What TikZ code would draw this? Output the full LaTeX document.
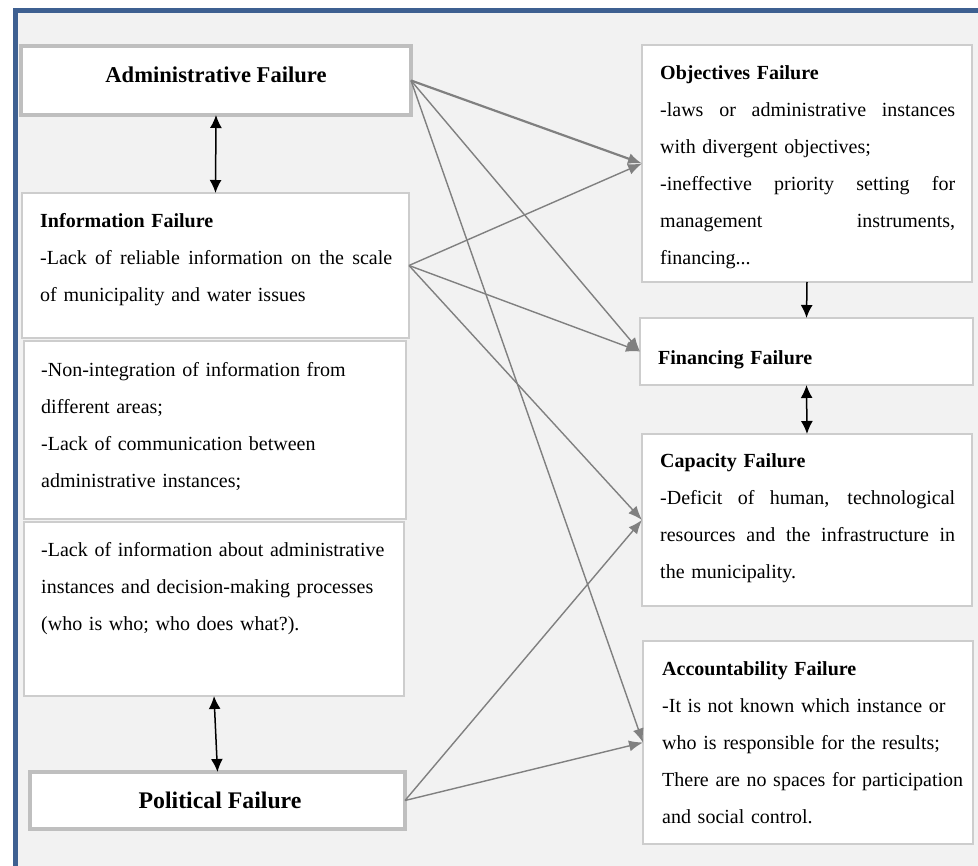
\documentclass[tikz,border=0pt]{standalone}
\usepackage{fontspec}
\setmainfont{Liberation Serif}
\usetikzlibrary{arrows.meta}
\definecolor{panelgray}{HTML}{F2F2F2}
\definecolor{frameblue}{RGB}{62,96,145}
\definecolor{boxline}{HTML}{CDCDCD}
\definecolor{headline}{HTML}{BFBFBF}
\definecolor{linkgray}{HTML}{808080}
\tikzstyle{failbox}=[draw=boxline, line width=1.2pt, fill=white, anchor=north west, inner sep=0pt, outer sep=0pt]
\tikzstyle{headbox}=[failbox, draw=headline]
\tikzstyle{txt}=[anchor=base west, inner sep=0pt, align=left, font=\fontsize{20}{37}\selectfont]
\tikzstyle{link}=[draw=linkgray, line width=1.4pt, -{Latex[length=14pt,width=11pt]}]
\tikzstyle{pair}=[line width=1.5pt, {Latex[length=13pt,width=12pt]}-{Latex[length=13pt,width=12pt]}]
% one line spread to a given width
\newcommand{\fullline}[2]{\leavevmode\hbox to #1{\spaceskip=\fontdimen2\font plus 1fil\relax #2}}

\begin{document}
\begin{tikzpicture}[x=1pt,y=-1pt]
\useasboundingbox (0,0) rectangle (978,866);
\fill[panelgray] (15.5,10.5) rectangle (978,866);
\draw[frameblue, line width=4.5pt] (15.5,866) -- (15.5,10.5) -- (978,10.5);

% left column
\node[headbox, line width=3.5pt, minimum width=390pt, minimum height=69pt, font=\fontsize{22.6}{26}\selectfont\bfseries, text height=16pt, text depth=12.6pt] (admin) at (21,46) {Administrative Failure};
\node[failbox, minimum width=387pt, minimum height=145pt] (info) at (22,193) {};
\node[failbox, minimum width=382pt, minimum height=178pt] (nonint) at (24,341) {};
\node[failbox, minimum width=380pt, minimum height=174pt] (lack) at (24,522) {};
\node[headbox, line width=4.5pt, minimum width=375pt, minimum height=57pt, font=\fontsize{23.8}{28}\selectfont\bfseries] (political) at (30,772) {\hspace{5pt}Political Failure};

\node[txt, text width=352pt] (infotext) at (40,228) {\textbf{Information Failure}\\\fullline{352pt}{-Lack of reliable information on the scale}\\of municipality and water issues};
\node[txt, text width=360pt] (noninttext) at (41,377) {-Non-integration of information from\\different areas;\\-Lack of communication between\\administrative instances;};
\node[txt, text width=360pt] (lacktext) at (41,557) {-Lack of information about administrative\\instances and decision-making processes\\(who is who; who does what?).};

% right column
\node[failbox, minimum width=330pt, minimum height=237pt] (obj) at (642,45) {};
\node[failbox, minimum width=333pt, minimum height=67pt] (fin) at (640,318) {};
\node[failbox, minimum width=330pt, minimum height=172pt] (cap) at (642,434) {};
\node[failbox, minimum width=330pt, minimum height=203pt] (acc) at (643,641) {};

\node[txt, text width=295pt] (objtext) at (660,80) {\textbf{Objectives Failure}\\\fullline{295pt}{-laws or administrative instances}\\with divergent objectives;\\\fullline{295pt}{-ineffective priority setting for}\\\fullline{295pt}{management instruments,}\\financing...};
\node[txt, text width=295pt] (fintext) at (658,365) {\textbf{Financing Failure}};
\node[txt, text width=295pt] (captext) at (660,468) {\textbf{Capacity Failure}\\\fullline{295pt}{-Deficit of human, technological}\\\fullline{295pt}{resources and the infrastructure in}\\the municipality.};
\node[txt, text width=305pt] (acctext) at (662,675) {\textbf{Accountability Failure}\\-It is not known which instance or\\who is responsible for the results;\\There are no spaces for participation\\and social control.};

% links
\draw[link, line width=2.2pt] (admin.east) -- (obj.west);
\draw[link] (admin.east) -- (fin.west);
\draw[link] (admin.east) -- (acc.west);
\draw[link] (info.east) -- (obj.west);
\draw[link] (info.east) -- (fin.west);
\draw[link] (info.east) -- (cap.west);
\draw[link] (political.east) -- (cap.west);
\draw[link] (political.east) -- (acc.west);

\draw[pair] (admin.south) -- (info.north);
\draw[pair] (lack.south) -- (political.north);
\draw[line width=1.5pt, -{Latex[length=13pt,width=12pt]}] (obj.south) -- (fin.north);
\draw[pair] (fin.south) -- (cap.north);
\end{tikzpicture}
\end{document}
